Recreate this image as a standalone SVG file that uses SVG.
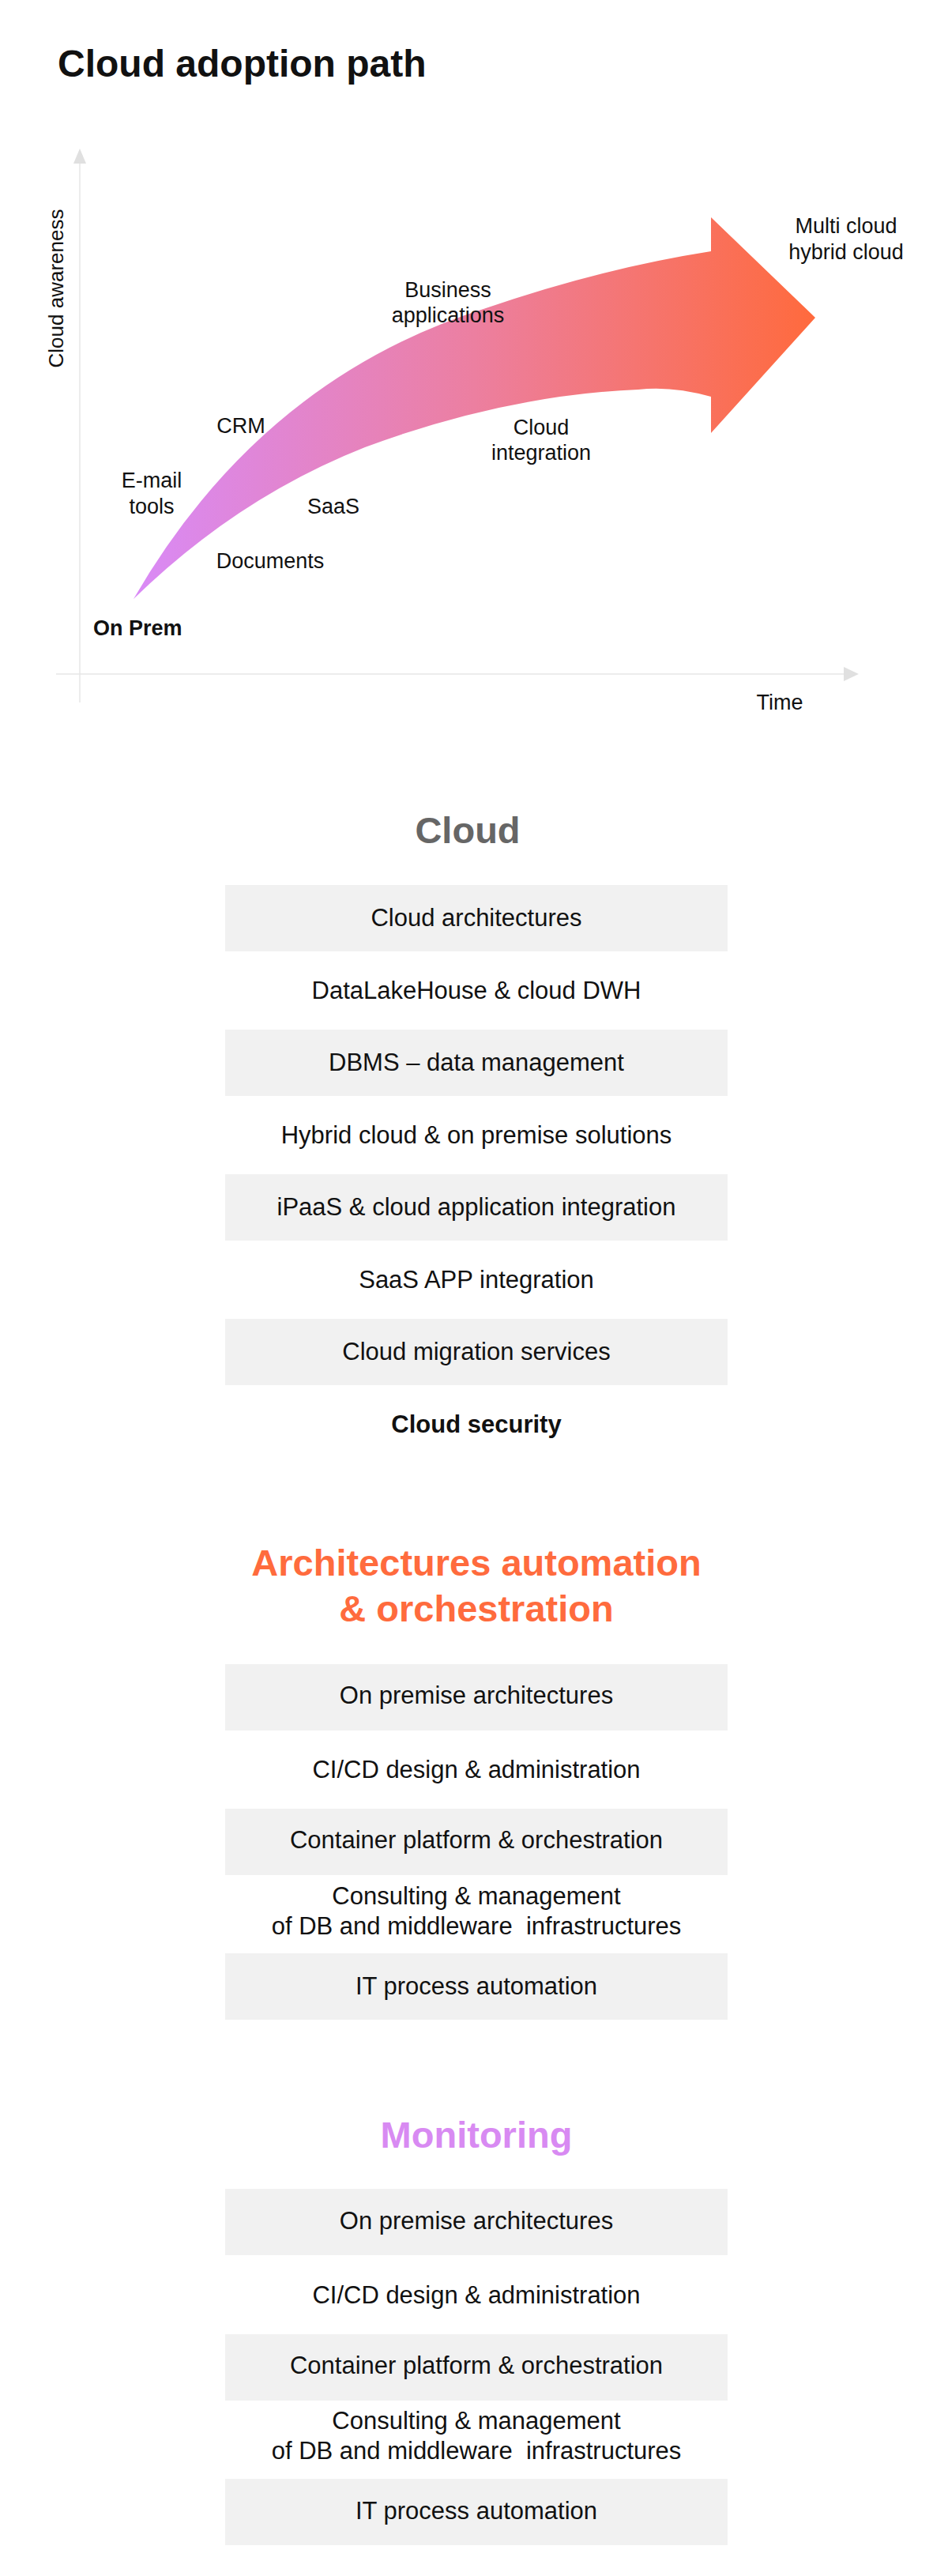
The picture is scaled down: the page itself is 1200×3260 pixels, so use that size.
<svg xmlns="http://www.w3.org/2000/svg" width="1200" height="3260" viewBox="0 0 1200 3260">
<defs>
<linearGradient id="g" x1="169" y1="0" x2="1032" y2="0" gradientUnits="userSpaceOnUse">
<stop offset="0" stop-color="#d98af7"/><stop offset="0.5" stop-color="#ec7fa0"/><stop offset="1" stop-color="#ff6a3d"/>
</linearGradient>
<style>
text{font-family:"Liberation Sans",Arial,sans-serif;fill:#111;white-space:pre}
.l{font-size:27px;text-anchor:middle}
.it{font-size:31px;text-anchor:middle}
.h{font-size:47px;font-weight:bold;text-anchor:middle}
.box{fill:#f1f1f1}
.ax{stroke:#e6e6e6;stroke-width:1.5;fill:none}
</style>
</defs>
<rect width="1200" height="3260" fill="#fff"/>
<text x="73" y="97" style="font-size:48px;font-weight:bold">Cloud adoption path</text>
<g id="axes">
<line class="ax" x1="101" y1="205" x2="101" y2="889"/>
<polygon points="101,188 93,207 109,207" fill="#e0e0e0"/>
<line class="ax" x1="71" y1="853" x2="1070" y2="853"/>
<polygon points="1087,853 1068,844 1068,862" fill="#e0e0e0"/>
<text x="80" y="365" transform="rotate(-90 80 365)" style="font-size:26px;text-anchor:middle">Cloud awareness</text>
<text class="l" x="987" y="898">Time</text>
</g>
<g id="arrow">
<path d="M169,758 Q330,480 615,390 Q760,340 900,318 L900,275 L1032,402 L900,548 L900,502 Q850,488 808,493 Q640,500 462,566 Q300,630 169,758 Z" fill="url(#g)"/>
</g>
<g id="labels">
<text class="l" x="1071" y="295">Multi cloud</text>
<text class="l" x="1071" y="328">hybrid cloud</text>
<text class="l" x="567" y="376">Business</text>
<text class="l" x="567" y="408">applications</text>
<text class="l" x="305" y="548">CRM</text>
<text class="l" x="192" y="617">E-mail</text>
<text class="l" x="192" y="650">tools</text>
<text class="l" x="422" y="650">SaaS</text>
<text class="l" x="342" y="719">Documents</text>
<text class="l" x="685" y="550">Cloud</text>
<text class="l" x="685" y="582">integration</text>
<text x="118" y="804" style="font-size:27px;font-weight:bold">On Prem</text>
</g>
<g id="cloud">
<text class="h" x="592" y="1067" style="fill:#666">Cloud</text>
<rect class="box" x="285" y="1120" width="636" height="84"/>
<text class="it" x="603" y="1172">Cloud architectures</text>
<text class="it" x="603" y="1264">DataLakeHouse &amp; cloud DWH</text>
<rect class="box" x="285" y="1303" width="636" height="84"/>
<text class="it" x="603" y="1355">DBMS – data management</text>
<text class="it" x="603" y="1447">Hybrid cloud &amp; on premise solutions</text>
<rect class="box" x="285" y="1486" width="636" height="84"/>
<text class="it" x="603" y="1538">iPaaS &amp; cloud application integration</text>
<text class="it" x="603" y="1630">SaaS APP integration</text>
<rect class="box" x="285" y="1669" width="636" height="84"/>
<text class="it" x="603" y="1721">Cloud migration services</text>
<text class="it" x="603" y="1813" style="font-weight:bold">Cloud security</text>
</g>
<g id="automation">
<text class="h" x="603" y="1994" style="fill:#ff6b3d">Architectures automation</text>
<text class="h" x="603" y="2052" style="fill:#ff6b3d">&amp; orchestration</text>
<rect class="box" x="285" y="2106" width="636" height="84"/>
<text class="it" x="603" y="2156">On premise architectures</text>
<text class="it" x="603" y="2250">CI/CD design &amp; administration</text>
<rect class="box" x="285" y="2289" width="636" height="84"/>
<text class="it" x="603" y="2339">Container platform &amp; orchestration</text>
<text class="it" x="603" y="2410">Consulting &amp; management</text>
<text class="it" x="603" y="2448">of DB and middleware  infrastructures</text>
<rect class="box" x="285" y="2472" width="636" height="84"/>
<text class="it" x="603" y="2524">IT process automation</text>
</g>
<g id="monitoring">
<text class="h" x="603" y="2718" style="fill:#d88af2">Monitoring</text>
<rect class="box" x="285" y="2770" width="636" height="84"/>
<text class="it" x="603" y="2821">On premise architectures</text>
<text class="it" x="603" y="2915">CI/CD design &amp; administration</text>
<rect class="box" x="285" y="2954" width="636" height="84"/>
<text class="it" x="603" y="3004">Container platform &amp; orchestration</text>
<text class="it" x="603" y="3074">Consulting &amp; management</text>
<text class="it" x="603" y="3112">of DB and middleware  infrastructures</text>
<rect class="box" x="285" y="3137" width="636" height="84"/>
<text class="it" x="603" y="3188">IT process automation</text>
</g>
</svg>
